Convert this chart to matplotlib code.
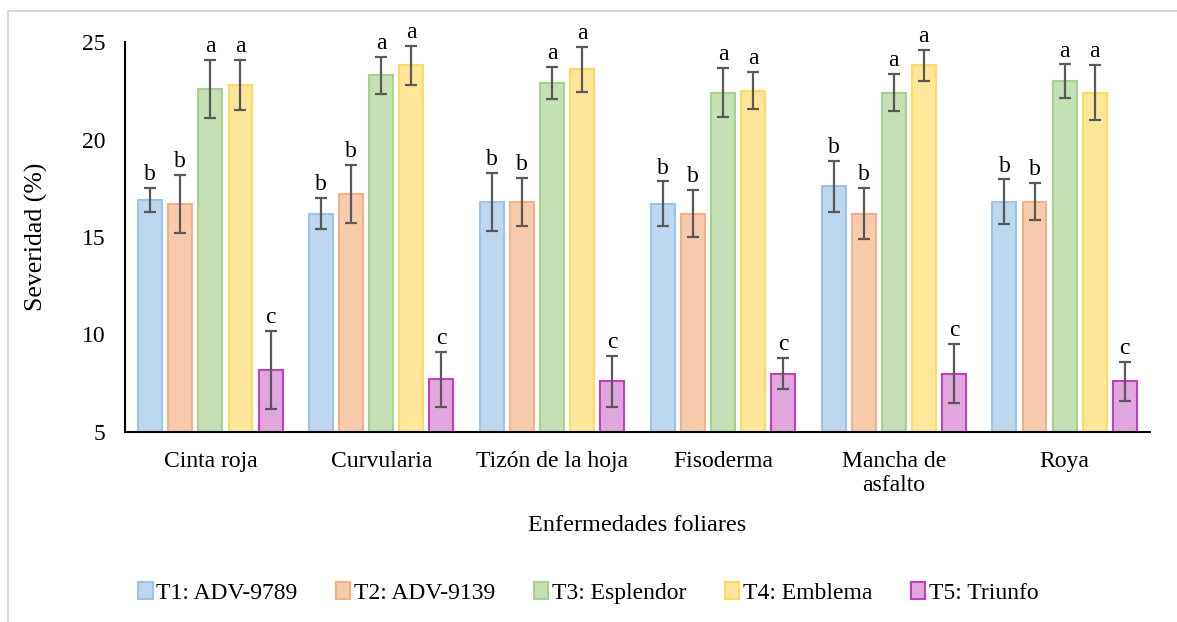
import matplotlib
matplotlib.use("Agg")
import matplotlib.pyplot as plt
import numpy as np
from matplotlib.lines import Line2D

plt.rcParams['font.family'] = ['Liberation Serif', 'DejaVu Serif']

categories = ["Cinta roja", "Curvularia", "Tizón de la hoja", "Fisoderma", "Mancha de\nasfalto", "Roya"]
series_names = ["T1: ADV-9789", "T2: ADV-9139", "T3: Esplendor", "T4: Emblema", "T5: Triunfo"]

t1 = [16.9, 16.2, 16.8, 16.7, 17.6, 16.8]
t2 = [16.7, 17.2, 16.8, 16.2, 16.2, 16.8]
t3 = [22.6, 23.3, 22.9, 22.4, 22.4, 23.0]
t4 = [22.8, 23.8, 23.6, 22.5, 23.8, 22.4]
t5 = [8.2, 7.7, 7.6, 8.0, 8.0, 7.6]

e1 = [0.6, 0.8, 1.5, 1.15, 1.3, 1.15]
e2 = [1.5, 1.5, 1.25, 1.2, 1.3, 0.95]
e3 = [1.5, 0.95, 0.8, 1.25, 0.95, 0.85]
e4 = [1.3, 1.0, 1.15, 0.95, 0.8, 1.4]
e5 = [2.0, 1.4, 1.3, 0.8, 1.5, 1.0]

letters = ["b", "b", "a", "a", "c"]

values = [t1, t2, t3, t4, t5]
errors = [e1, e2, e3, e4, e5]
fills = ["#BDD7EE", "#F8CBAD", "#C5E0B4", "#FFE699", "#E2A6DE"]
edges = ["#9DC3E6", "#F4B183", "#A9D18E", "#FFD966", "#C040C0"]

fig = plt.figure(figsize=(11.77, 6.22), dpi=100)
ax = fig.add_axes([125/1177, 1-432/622, (1150-125)/1177, (432-42)/622])

x = np.arange(len(categories))
pitch = 0.176
width = 0.14
for i in range(5):
    pos = x + (i - 2) * pitch
    ax.bar(pos, np.array(values[i]) - 5, bottom=5, width=width, color=fills[i],
           edgecolor=edges[i], linewidth=1.5, label=series_names[i], zorder=2)
    ax.errorbar(pos, values[i], yerr=errors[i], fmt='none', ecolor='#595959',
                elinewidth=1.6, capsize=4.2, capthick=1.6, zorder=3)
    for p, v, e in zip(pos, values[i], errors[i]):
        ax.text(p, v + e + 0.15, letters[i], ha='center', va='bottom', fontsize=17)

ax.set_xlim(-0.5, len(categories) - 0.5)
ax.set_ylim(5, 25)
ax.set_yticks([5, 10, 15, 20, 25])
ax.set_xticks(x)
ax.set_xticklabels(categories, fontsize=17, linespacing=1.15)
ax.tick_params(axis='y', labelsize=17, length=0, pad=14)
ax.tick_params(axis='x', length=0, pad=14)
for s in ['top', 'right']:
    ax.spines[s].set_visible(False)
ax.spines['left'].set_linewidth(1.5)
ax.spines['bottom'].set_linewidth(1.5)
ax.spines['left'].set_color('black')
ax.spines['bottom'].set_color('black')

ax.set_ylabel("Severidad (%)", fontsize=18.5)
ax.yaxis.set_label_coords((48-125)/1025, 0.5)
ax.set_xlabel("Enfermedades foliares", fontsize=17.5)
ax.xaxis.set_label_coords(0.5, (432-515)/390)

leg = fig.legend(loc='center', bbox_to_anchor=(0.5, 1-593/622), ncol=5, frameon=False,
                 fontsize=17, handlelength=0.6, handleheight=0.75, handletextpad=0.15,
                 columnspacing=1.65)

fig.add_artist(Line2D([8/1177, 8/1177], [0, 1-11/622], transform=fig.transFigure,
                      color='#D9D9D9', linewidth=1.5))
fig.add_artist(Line2D([8/1177, 1], [1-11/622, 1-11/622], transform=fig.transFigure,
                      color='#D9D9D9', linewidth=1.5))

fig.savefig("out.png", dpi=100, facecolor='white')
